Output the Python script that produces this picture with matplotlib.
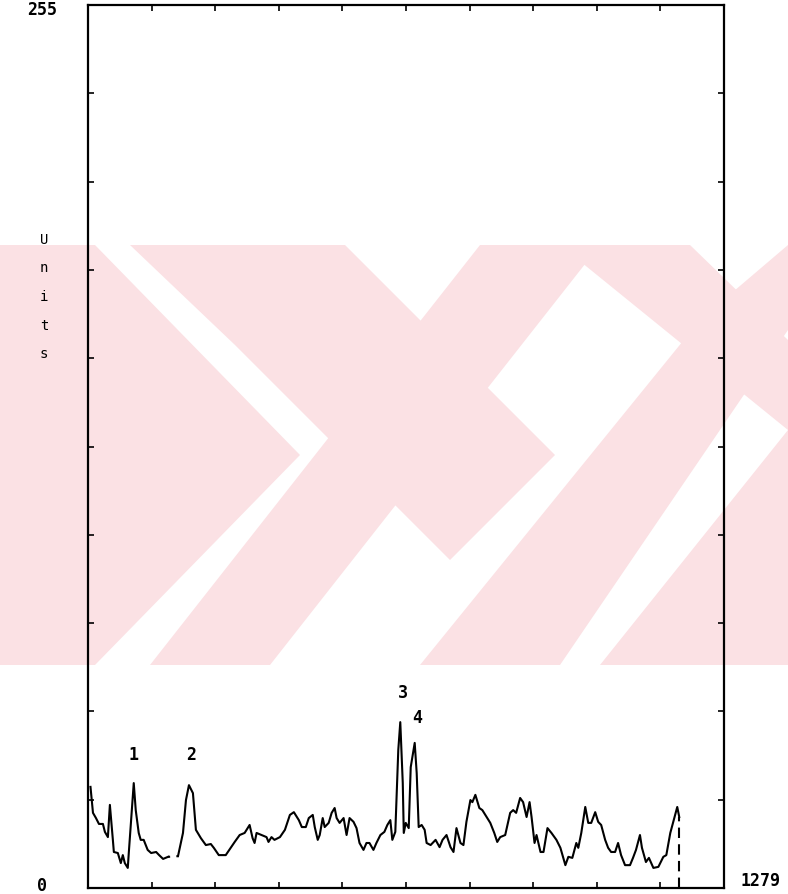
import matplotlib
matplotlib.use("Agg")
from matplotlib import pyplot as plt
from matplotlib.patches import Polygon
import numpy as np

# scan trace: channel number vs. units (0-255 full scale, 1280 channels)
channel = [5, 10, 16, 22, 30, 34, 40, 44, 50, 52, 60, 66, 70, 74, 80, 82, 92, 96, 102, 106,
           112, 120, 127, 137, 143, 151, 161, 181, 191, 197, 203, 211, 217, 227, 237, 247,
           253, 263, 277, 287, 295, 305, 315, 325, 331, 335, 339, 349, 359, 363, 369, 375,
           386, 396, 406, 414, 424, 430, 438, 444, 452, 456, 462, 466, 472, 476, 484, 490,
           496, 500, 506, 514, 520, 526, 534, 540, 546, 554, 560, 566, 574, 580, 588, 596,
           602, 608, 612, 618, 624, 628, 633, 635, 639, 645, 649, 657, 661, 665, 671, 677,
           681, 689, 699, 707, 713, 721, 729, 735, 741, 749, 755, 761, 769, 773, 779, 787,
           793, 799, 809, 817, 823, 829, 839, 849, 855, 861, 869, 875, 882, 888, 892, 898,
           902, 910, 916, 924, 932, 942, 950, 960, 966, 974, 982, 986, 992, 1000, 1006, 1012,
           1020, 1026, 1032, 1040, 1046, 1052, 1060, 1066, 1072, 1080, 1090, 1096, 1102, 1110,
           1114, 1122, 1128, 1137, 1147, 1157, 1163, 1171, 1177, 1185, 1189]
units = [29.2, 21.7, 20.2, 18.5, 18.5, 16.2, 14.7, 24.0, 13.9, 10.4, 10.1, 7.2, 9.5, 7.2, 5.8,
         10.1, 30.3, 22.5, 15.9, 13.9, 13.9, 11.0, 10.1, 10.4, 9.5, 8.4, 9.0, 9.2, 15.9, 25.4,
         29.7, 27.4, 16.8, 14.4, 12.4, 12.7, 11.6, 9.5, 9.5, 11.6, 13.3, 15.3, 15.9, 18.2, 14.4,
         13.0, 15.9, 15.3, 14.7, 13.3, 14.7, 13.9, 14.7, 16.8, 21.1, 21.9, 19.6, 17.6, 17.6,
         20.2, 21.1, 17.6, 13.9, 15.3, 20.2, 17.6, 18.8, 21.7, 23.1, 20.2, 18.8, 20.2, 15.3,
         20.2, 19.1, 17.3, 13.0, 11.0, 13.0, 13.0, 11.0, 13.0, 15.3, 16.2, 18.2, 19.6, 13.9,
         16.2, 39.9, 47.9, 30.3, 15.9, 18.8, 17.3, 34.9, 41.9, 33.2, 17.6, 18.2, 16.8, 13.0,
         12.4, 13.9, 11.8, 13.9, 15.3, 11.8, 10.4, 17.3, 13.0, 12.4, 19.1, 25.4, 24.8, 26.9,
         23.1, 22.5, 21.1, 18.8, 15.9, 13.3, 14.7, 15.3, 21.7, 22.5, 21.7, 26.0, 24.8, 20.5,
         24.8, 20.5, 13.0, 15.3, 10.4, 10.4, 17.3, 15.9, 13.9, 11.6, 6.6, 9.0, 8.7, 13.0, 11.6,
         15.9, 23.4, 18.8, 18.8, 21.9, 19.1, 18.2, 13.9, 11.6, 10.4, 10.4, 13.0, 9.5, 6.6, 6.6,
         8.7, 11.0, 15.3, 11.6, 7.5, 8.7, 5.8, 6.1, 9.0, 9.5, 15.9, 19.1, 23.4, 20.5]

peak_labels = ["1", "2", "3", "4"]
peak_channels = [92, 207, 634, 661]
peak_heights = [38.4, 38.4, 56.3, 49.1]

x_max = 1279
y_max = 255

W, H = 788, 894
fig = plt.figure(figsize=(W / 100, H / 100), dpi=100)

# faint pink watermark behind the plot
bg = fig.add_axes([0, 0, 1, 1], zorder=-5)
bg.set_xlim(0, W)
bg.set_ylim(H, 0)
bg.axis("off")
pink = "#fbe1e4"
for pts in [
    [(0, 245), (95, 245), (300, 455), (95, 665), (0, 665)],
    [(130, 245), (345, 245), (555, 455), (450, 560), (235, 345)],
    [(150, 665), (480, 245), (600, 245), (270, 665)],
    [(420, 665), (700, 320), (788, 245), (788, 330), (560, 665)],
    [(560, 245), (690, 245), (788, 340), (788, 430)],
    [(600, 665), (788, 430), (788, 665)],
]:
    bg.add_patch(Polygon(pts, closed=True, facecolor=pink, edgecolor="none"))

ax = fig.add_axes([88 / W, 1 - 888 / H, (724 - 88) / W, (888 - 5) / H])
ax.patch.set_alpha(0)

ch = np.array(channel)
u = np.array(units)
gap = np.searchsorted(ch, 170)
ax.plot(ch[:gap], u[:gap], color="black", lw=1.5)
ax.plot(ch[gap:], u[gap:], color="black", lw=1.5)
ax.plot(ch[gap - 1:gap + 1], u[gap - 1:gap + 1], color="black", lw=1.5, ls=(0, (1, 3)))
# pen lift at the end of the scan
ax.vlines(ch[-1], 0, u[-1], color="black", lw=1.5, ls=(0, (5, 3)))

mono = dict(family="DejaVu Sans Mono", fontsize=12, fontweight="bold")
for lab, cx, hy in zip(peak_labels, peak_channels, peak_heights):
    ax.text(cx, hy, lab, ha="center", va="center", **mono)

ax.set_xlim(0, x_max)
ax.set_ylim(0, y_max)
ax.set_xticks(np.linspace(0, x_max, 11))
ax.set_yticks(np.linspace(0, y_max, 11))
ax.tick_params(direction="in", length=4, width=1.2, top=True, right=True,
               labelleft=False, labelbottom=False)
for s in ax.spines.values():
    s.set_linewidth(1.6)

fig.text(57 / W, 1 - 10 / H, "255", ha="right", va="center", **mono)
fig.text(42 / W, 1 - 886 / H, "0", ha="center", va="center", **mono)
fig.text(741 / W, 1 - 881 / H, "1279", ha="left", va="center", **mono)
for i, c in enumerate("Units"):
    fig.text(44 / W, 1 - (240 + i * 28.5) / H, c, ha="center", va="center",
             family="DejaVu Sans Mono", fontsize=10)

fig.savefig("out.png", dpi=100)
